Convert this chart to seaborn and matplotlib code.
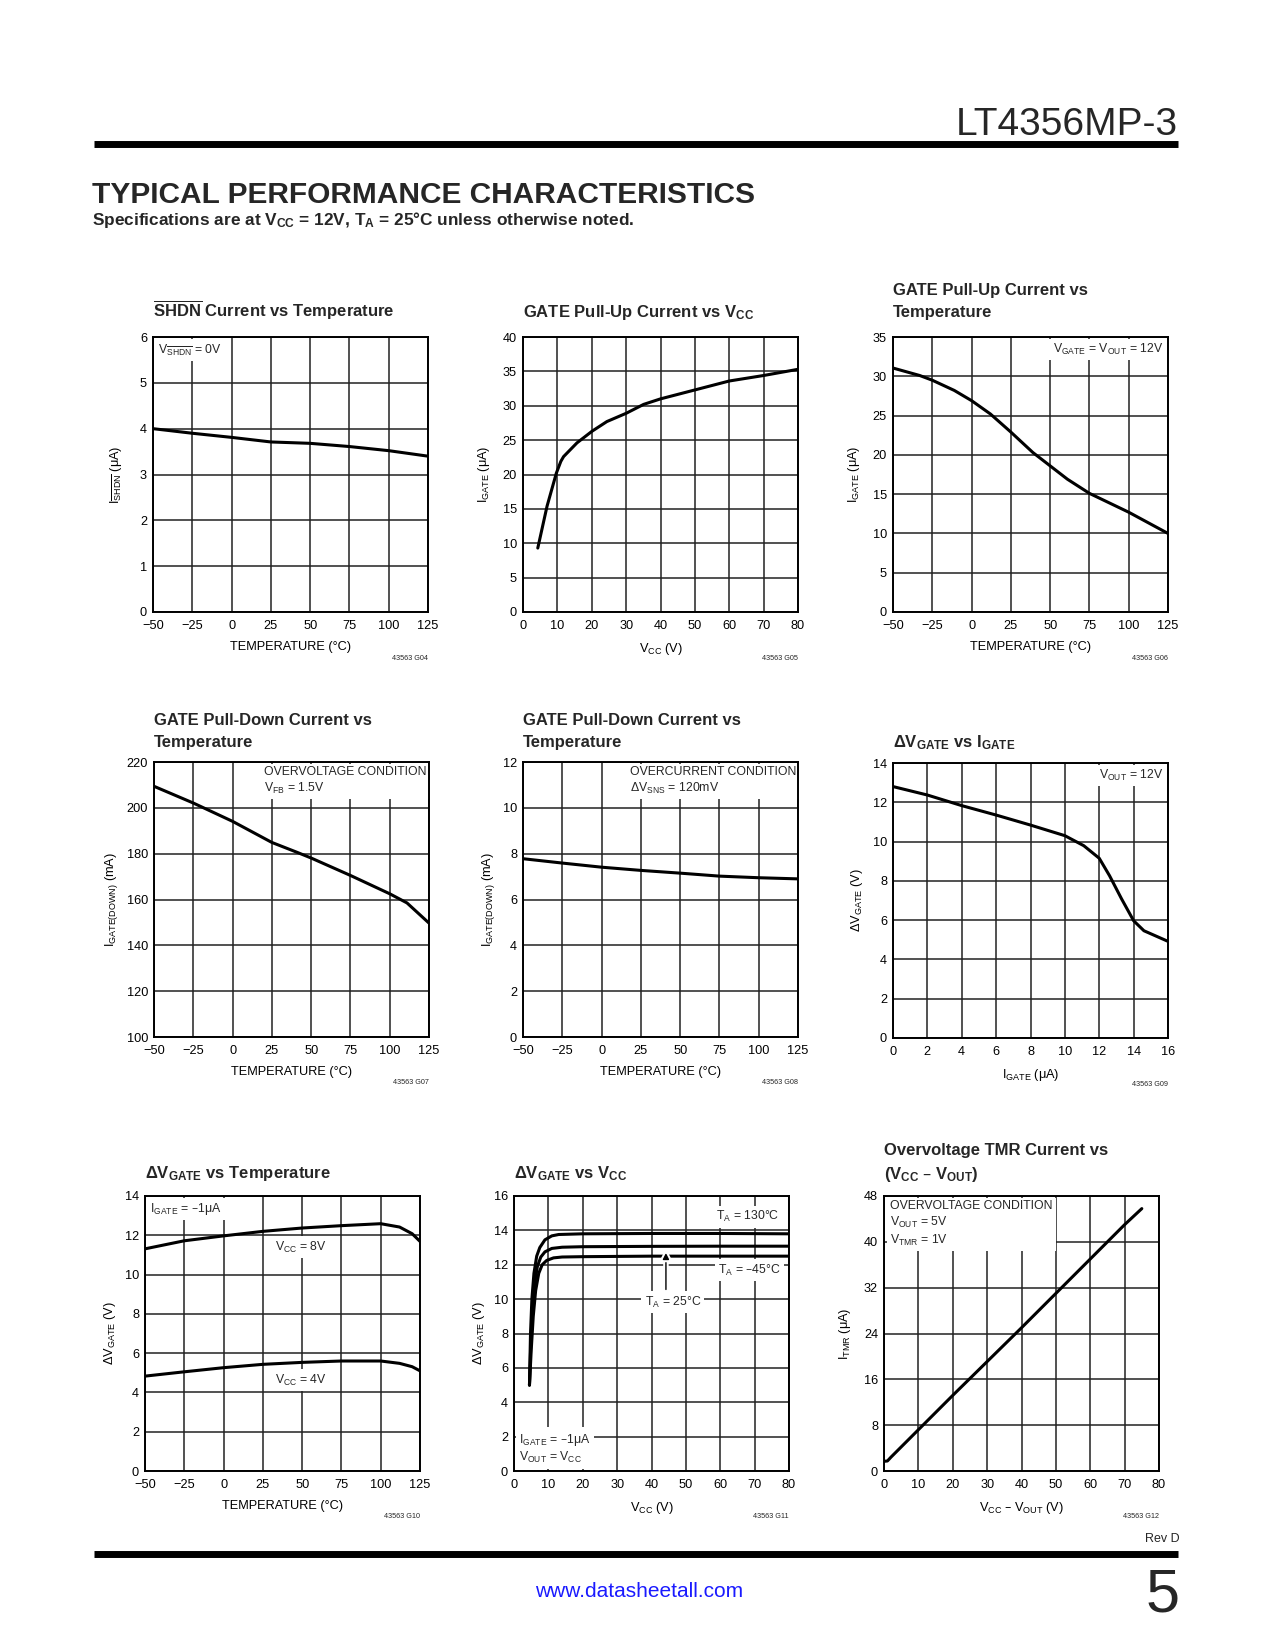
import numpy as np
import seaborn as sns
import matplotlib.pyplot as plt
import matplotlib.patheffects as pe
from matplotlib import rcParams

# ---- values ----
temp_ticks = [-50, -25, 0, 25, 50, 75, 100, 125]

shdn_temp = [-50, -25, 0, 25, 50, 75, 100, 125]
shdn_current = [4.0, 3.9, 3.81, 3.71, 3.68, 3.61, 3.52, 3.40]

pullup_vcc = [4.3, 7.0, 9.7, 11.0, 11.8, 15.7, 20.1, 24.4, 30, 35.1, 40, 50, 60, 70, 80]
pullup_current = [9.3, 15.4, 20.2, 21.9, 22.6, 24.6, 26.3, 27.7, 28.9, 30.2, 31.0, 32.3, 33.6, 34.4, 35.3]

pullup_temp = [-50, -33, -25, -11, 0, 12, 25, 39, 50, 61, 75, 100, 125]
pullup_temp_current = [31.05, 30.1, 29.5, 28.2, 26.9, 25.2, 22.9, 20.3, 18.6, 16.9, 15.1, 12.7, 10.0]

ov_temp = [-50, -25, 0, 25, 41, 50, 75, 100, 111, 125]
ov_pulldown = [209.4, 202.1, 194.1, 184.9, 180.6, 178.1, 170.5, 162.5, 158.5, 149.7]

oc_temp = [-50, -25, 0, 25, 50, 75, 100, 125]
oc_pulldown = [7.78, 7.59, 7.41, 7.27, 7.15, 7.02, 6.95, 6.90]

igate = [0, 2, 4, 6, 8, 10, 11.1, 12, 12.6, 13.3, 14, 14.6, 16]
dvgate_igate = [12.8, 12.37, 11.83, 11.35, 10.84, 10.30, 9.79, 9.15, 8.26, 7.08, 5.97, 5.46, 4.92]

dvt_temp = [-50, -25, 0, 25, 50, 75, 100, 112, 120, 125]
dvt_vcc8 = [11.31, 11.72, 11.97, 12.20, 12.37, 12.49, 12.59, 12.42, 12.08, 11.69]
dvt_vcc4 = [4.83, 5.05, 5.26, 5.43, 5.53, 5.60, 5.60, 5.48, 5.31, 5.10]

dvv_vcc_130 = [4.5, 4.8, 5.2, 5.8, 6.6, 7.5, 9, 11, 13, 20, 40, 60, 80]
dvv_130 = [5.0, 8.0, 10.0, 11.5, 12.5, 13.0, 13.45, 13.68, 13.76, 13.8, 13.82, 13.82, 13.8]
dvv_vcc_25 = [4.5, 4.9, 5.4, 6.0, 6.8, 7.8, 9, 11, 14, 20, 40, 60, 80]
dvv_25 = [5.0, 7.5, 9.5, 10.9, 11.9, 12.45, 12.75, 12.95, 13.02, 13.05, 13.07, 13.08, 13.08]
dvv_vcc_m45 = [4.5, 5.0, 5.6, 6.3, 7.2, 8.2, 9.5, 11.5, 14, 20, 40, 60, 80]
dvv_m45 = [5.0, 7.0, 9.0, 10.5, 11.5, 12.0, 12.25, 12.4, 12.45, 12.47, 12.5, 12.5, 12.5]

tmr_dv = [0.2, 1.0, 2, 10, 20, 30, 40, 50, 60, 70, 75]
tmr_current = [1.7, 1.75, 2.4, 7.2, 13.2, 19.1, 25.0, 31.0, 37.0, 43.0, 45.8]

sns.set_style("white")
# fonts (after set_style, which resets font.family)
rcParams['font.family'] = ['Liberation Sans', 'DejaVu Sans']
rcParams['mathtext.default'] = 'regular'

TICK = 9.2
LABEL = 9.2
NOTE = 8.8
TITLE = 12

W, H = 1275, 1650
fig = plt.figure(figsize=(W / 100, H / 100), dpi=100)
fig.patch.set_facecolor('white')


def px(x, y):
    return x / W, 1 - y / H


def make_axes(left, top, size=275):
    return fig.add_axes([left / W, 1 - (top + size) / H, size / W, size / H])


def style(ax, xticks, yticks, xlabel, ylabel, ylab_off, code, title, title_off):
    ax.set_xlim(xticks[0], xticks[-1])
    ax.set_ylim(yticks[0], yticks[-1])
    ax.set_xticks(xticks)
    ax.set_yticks(yticks)
    ax.grid(True, color='#222222', lw=1.1)
    ax.set_axisbelow(True)
    ax.tick_params(axis='x', length=0, labelsize=TICK, pad=5.5, colors='black')
    ax.tick_params(axis='y', length=0, labelsize=TICK, pad=4.3, colors='black')
    for s in ax.spines.values():
        s.set_visible(True)
        s.set_linewidth(1.4)
        s.set_color('black')
    ax.set_xlabel(xlabel, fontsize=LABEL, color='black')
    ax.xaxis.set_label_coords(0.5, -29 / 275)
    ax.set_ylabel(ylabel, fontsize=LABEL, color='black')
    ax.yaxis.set_label_coords(-ylab_off / 275, 0.5)
    ax.text(1, -46 / 275, code, transform=ax.transAxes, ha='right', va='center', fontsize=5.2)
    for line, off in zip(title, title_off):
        ax.text(0, 1 + off / 275, line, transform=ax.transAxes, ha='left', va='baseline',
                fontsize=TITLE, fontweight='bold')


def note(ax, x, y, s, ha='left', va='top', tr=None):
    ax.text(x, y, s, transform=ax.transAxes if tr is None else tr, ha=ha, va=va,
            fontsize=NOTE, zorder=2.2, linespacing=1.25,
            bbox=dict(facecolor='white', edgecolor='none', pad=2.5))


def curve(ax, x, y):
    sns.lineplot(x=x, y=y, ax=ax, color='black', linewidth=2.2, zorder=2.4)


# ---- row 1 ----
ax = make_axes(153, 337)
curve(ax, shdn_temp, shdn_current)
style(ax, temp_ticks, list(range(0, 7)), 'TEMPERATURE (°C)', r'I$_{\overline{SHDN}}$ (μA)', 29,
      '43563 G04', [r'$\overline{SHDN}$ Current vs Temperature'], [20])
note(ax, 0.018, 0.982, r'V$_{\overline{SHDN}}$ = 0V')

ax = make_axes(523, 337)
curve(ax, pullup_vcc, pullup_current)
style(ax, list(range(0, 81, 10)), list(range(0, 41, 5)), r'V$_{CC}$ (V)', r'I$_{GATE}$ (μA)', 31,
      '43563 G05', [r'GATE Pull-Up Current vs V$_{CC}$'], [20])

ax = make_axes(893, 337)
curve(ax, pullup_temp, pullup_temp_current)
style(ax, temp_ticks, list(range(0, 36, 5)), 'TEMPERATURE (°C)', r'I$_{GATE}$ (μA)', 31,
      '43563 G06', ['GATE Pull-Up Current vs', 'Temperature'], [42, 20])
note(ax, 0.982, 0.982, r'V$_{GATE}$ = V$_{OUT}$ = 12V', ha='right')

# ---- row 2 ----
ax = make_axes(154, 762)
curve(ax, ov_temp, ov_pulldown)
style(ax, temp_ticks, list(range(100, 221, 20)), 'TEMPERATURE (°C)', r'I$_{GATE(DOWN)}$ (mA)', 34,
      '43563 G07', ['GATE Pull-Down Current vs', 'Temperature'], [37, 15])
note(ax, 0.40, 0.985, 'OVERVOLTAGE CONDITION\n' + r'V$_{FB}$ = 1.5V')

ax = make_axes(523, 762)
curve(ax, oc_temp, oc_pulldown)
style(ax, temp_ticks, list(range(0, 13, 2)), 'TEMPERATURE (°C)', r'I$_{GATE(DOWN)}$ (mA)', 26,
      '43563 G08', ['GATE Pull-Down Current vs', 'Temperature'], [37, 15])
note(ax, 0.39, 0.985, 'OVERCURRENT CONDITION\n' + r'ΔV$_{SNS}$ = 120mV')

ax = make_axes(893, 763)
curve(ax, igate, dvgate_igate)
style(ax, list(range(0, 17, 2)), list(range(0, 15, 2)), r'I$_{GATE}$ (μA)', r'ΔV$_{GATE}$ (V)', 28,
      '43563 G09', [r'ΔV$_{GATE}$ vs I$_{GATE}$'], [16])
note(ax, 0.982, 0.982, r'V$_{OUT}$ = 12V', ha='right')

# ---- row 3 ----
ax = make_axes(145, 1196)
curve(ax, dvt_temp, dvt_vcc8)
curve(ax, dvt_temp, dvt_vcc4)
style(ax, temp_ticks, list(range(0, 15, 2)), 'TEMPERATURE (°C)', r'ΔV$_{GATE}$ (V)', 27,
      '43563 G10', [r'ΔV$_{GATE}$ vs Temperature'], [18])
note(ax, 0.02, 0.982, r'I$_{GATE}$ = –1μA')
note(ax, 49.5, 11.4, r'V$_{CC}$ = 8V', ha='center', va='center', tr=ax.transData)
note(ax, 49.5, 4.63, r'V$_{CC}$ = 4V', ha='center', va='center', tr=ax.transData)

ax = make_axes(514, 1196)
curve(ax, dvv_vcc_130, dvv_130)
curve(ax, dvv_vcc_25, dvv_25)
curve(ax, dvv_vcc_m45, dvv_m45)
style(ax, list(range(0, 81, 10)), list(range(0, 17, 2)), r'V$_{CC}$ (V)', r'ΔV$_{GATE}$ (V)', 27,
      '43563 G11', [r'ΔV$_{GATE}$ vs V$_{CC}$'], [18])
note(ax, 0.018, 0.02, r'I$_{GATE}$ = –1μA' + '\n' + r'V$_{OUT}$ = V$_{CC}$', va='bottom')
note(ax, 0.965, 14.8, r'T$_A$ = 130°C', ha='right', va='center', tr=ax.get_yaxis_transform())
note(ax, 0.97, 11.68, r'T$_A$ = –45°C', ha='right', va='center', tr=ax.get_yaxis_transform())
note(ax, 46.2, 9.83, r'T$_A$ = 25°C', ha='center', va='center', tr=ax.transData)
ann = ax.annotate('', xy=(44.2, 12.85), xytext=(44.2, 10.4),
                  arrowprops=dict(arrowstyle='-|>', color='black', lw=1.0, mutation_scale=9),
                  zorder=3)
ann.arrow_patch.set_path_effects([pe.withStroke(linewidth=4, foreground='white')])

ax = make_axes(884, 1196)
curve(ax, tmr_dv, tmr_current)
style(ax, list(range(0, 81, 10)), list(range(0, 49, 8)), r'V$_{CC}$ – V$_{OUT}$ (V)', r'I$_{TMR}$ (μA)', 31,
      '43563 G12', ['Overvoltage TMR Current vs', r'(V$_{CC}$ – V$_{OUT}$)'], [41, 17])
note(ax, 0.022, 0.985, 'OVERVOLTAGE CONDITION\n' + r'V$_{OUT}$ = 5V' + '\n' + r'V$_{TMR}$ = 1V')

# ---- page header / footer ----
fig.add_artist(plt.Line2D([94 / W, 1178 / W], [1 - 143.5 / H] * 2, lw=5, color='black',
                          solid_capstyle='butt'))
fig.text(*px(1178, 135), 'LT4356MP-3', ha='right', va='baseline', fontsize=28, fontweight='light')
fig.text(*px(92, 203), 'TYPICAL PERFORMANCE CHARACTERISTICS', ha='left', va='baseline',
         fontsize=21.5, fontweight='heavy')
fig.text(*px(92, 225), r'Specifications are at V$_{CC}$ = 12V, T$_A$ = 25°C unless otherwise noted.',
         ha='left', va='baseline', fontsize=12.4, fontweight='bold')

fig.add_artist(plt.Line2D([94 / W, 1178 / W], [1 - 1553.5 / H] * 2, lw=5, color='black',
                          solid_capstyle='butt'))
fig.text(*px(1180, 1542), 'Rev D', ha='right', va='baseline', fontsize=9)
fig.text(*px(639, 1597), 'www.datasheetall.com', ha='center', va='baseline', fontsize=15,
         color='#1a1aff')
fig.text(*px(1180, 1611), '5', ha='right', va='baseline', fontsize=44, fontweight='light')

plt.savefig('out.png', dpi=100, facecolor='w')
